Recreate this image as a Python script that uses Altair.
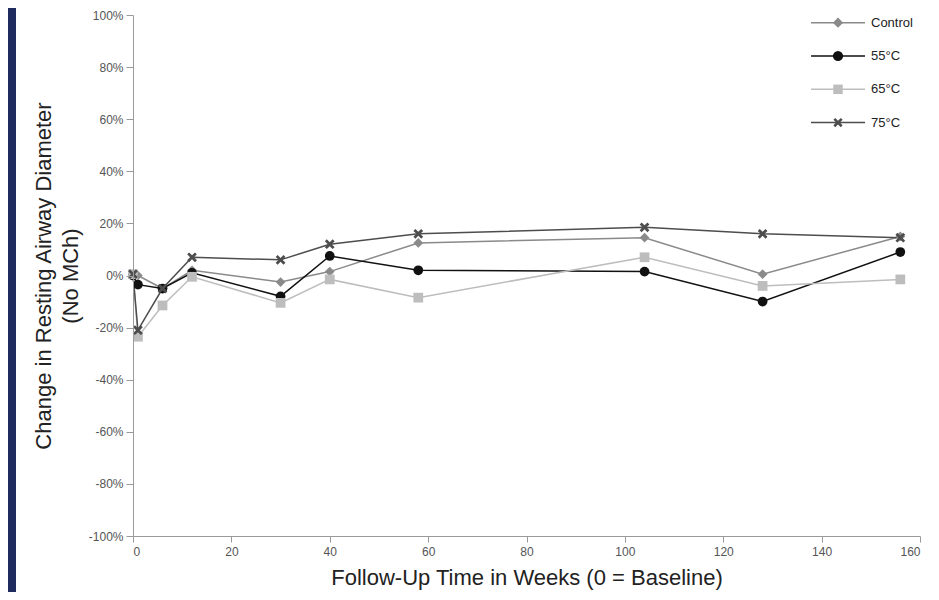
import altair as alt
import pandas as pd

weeks = [0, 1, 6, 12, 30, 40, 58, 104, 128, 156]
series_names = ["Control", "55°C", "65°C", "75°C"]
control = [0.5, 0.0, -5.0, 2.0, -2.5, 1.5, 12.5, 14.5, 0.5, 15.0]
c55 = [0.0, -3.5, -5.0, 1.0, -8.0, 7.5, 2.0, 1.5, -10.0, 9.0]
c65 = [0.5, -23.5, -11.5, -0.5, -10.5, -1.5, -8.5, 7.0, -4.0, -1.5]
c75 = [0.5, -21.0, -5.0, 7.0, 6.0, 12.0, 16.0, 18.5, 16.0, 14.5]
x_ticks = [0, 20, 40, 60, 80, 100, 120, 140, 160]
y_ticks = [-100, -80, -60, -40, -20, 0, 20, 40, 60, 80, 100]

colors = ["#8a8a8a", "#111111", "#bdbdbd", "#4d4d4d"]
xpath = ("M-1,-0.6L-0.6,-1L0,-0.4L0.6,-1L1,-0.6L0.4,0L1,0.6L0.6,1"
         "L0,0.4L-0.6,1L-1,0.6L-0.4,0Z")
shapes = ["diamond", "circle", "square", xpath]
sizes = [95, 95, 80, 75]

rows = []
for name, vals in zip(series_names, [control, c55, c65, c75]):
    for w, v in zip(weeks, vals):
        rows.append({"week": w, "value": v, "series": name})
df = pd.DataFrame(rows)

W, H = 787, 521
PAD = {"left": 125, "top": 7, "right": 10, "bottom": 56}
FONT = "Liberation Sans"

x_enc = alt.X(
    "week:Q",
    scale=alt.Scale(domain=[0, 160], nice=False),
    axis=alt.Axis(
        values=x_ticks, grid=False, title="Follow-Up Time in Weeks (0 = Baseline)",
        domainColor="#9a9a9a", tickColor="#9a9a9a", tickSize=6, labelPadding=4,
        labelColor="#555555", labelFont=FONT, labelFontSize=12,
        titleFont=FONT, titleFontSize=22, titleFontWeight="normal",
        titleColor="#222222", titlePadding=10, zindex=1,
    ),
)
y_enc = alt.Y(
    "value:Q",
    scale=alt.Scale(domain=[-100, 100], nice=False),
    axis=alt.Axis(
        values=y_ticks, grid=False, labelExpr="datum.value + '%'",
        title=["Change in Resting Airway Diameter", "(No MCh)"],
        domainColor="#9a9a9a", tickColor="#9a9a9a", tickSize=7, labelPadding=3,
        labelColor="#555555", labelFont=FONT, labelFontSize=12,
        titleFont=FONT, titleFontSize=22, titleFontWeight="normal",
        titleColor="#222222", titlePadding=6, titleLineHeight=27, zindex=1,
    ),
)
color_enc = alt.Color("series:N", scale=alt.Scale(domain=series_names, range=colors), legend=None)

panel = alt.Chart(pd.DataFrame({"a": [0]})).mark_rect(color="white").encode(
    x=alt.value(-(PAD["left"] - 8)), x2=alt.value(W + PAD["right"]),
    y=alt.value(-PAD["top"]), y2=alt.value(H + PAD["bottom"]),
)

base = alt.Chart(df)
lines = base.mark_line(strokeWidth=1.5).encode(
    x=x_enc, y=y_enc, color=color_enc, detail="series:N", order="week:Q"
)
points = base.mark_point(filled=True, opacity=1).encode(
    x="week:Q", y="value:Q", color=color_enc,
    shape=alt.Shape("series:N", scale=alt.Scale(domain=series_names, range=shapes), legend=None),
    size=alt.Size("series:N", scale=alt.Scale(domain=series_names, range=sizes), legend=None),
)

legend_layers = []
for i, name in enumerate(series_names):
    ly = 7.7 + i * 33.3
    ldf = pd.DataFrame({"series": [name]})
    lc = alt.Chart(ldf)
    legend_layers.append(lc.mark_rule(strokeWidth=1.5, color=colors[i]).encode(
        x=alt.value(678), x2=alt.value(732), y=alt.value(ly)))
    legend_layers.append(lc.mark_point(filled=True, opacity=1, color=colors[i], shape=shapes[i],
                                       size=sizes[i] + 10).encode(
        x=alt.value(705), y=alt.value(ly)))
    legend_layers.append(lc.mark_text(align="left", baseline="middle", font=FONT, fontSize=13,
                                      color="#222222").encode(
        x=alt.value(738), y=alt.value(ly), text="series:N"))

chart = alt.layer(panel, lines, points, *legend_layers).properties(
    width=W, height=H,
    autosize=alt.AutoSizeParams(type="none"),
    padding=PAD,
    background="#1f2a5e",
).configure_view(stroke=None)

chart.save("out.html", embed_options={"renderer": "svg", "actions": False})
